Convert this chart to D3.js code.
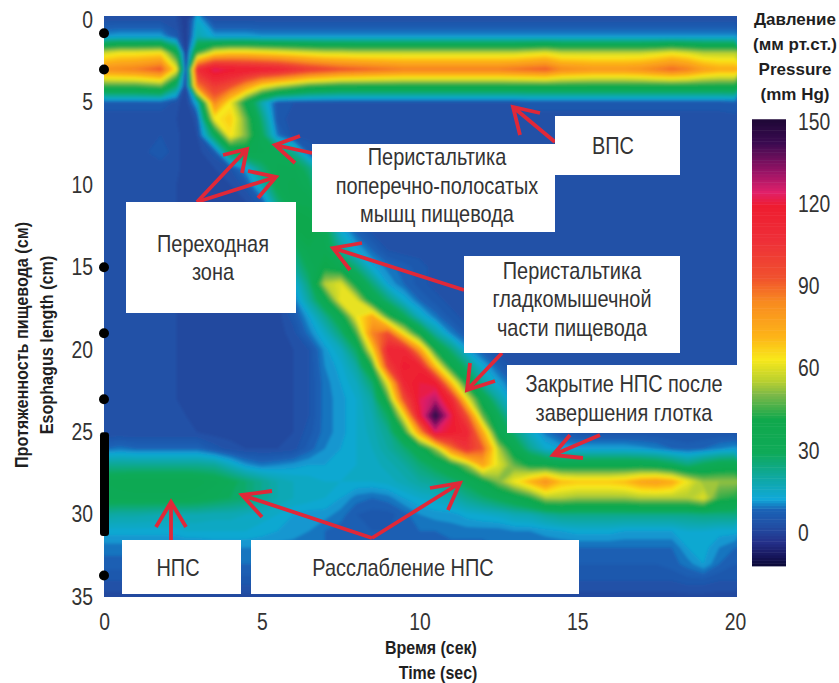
<!DOCTYPE html>
<html>
<head>
<meta charset="utf-8">
<script src="https://cdn.jsdelivr.net/npm/d3@7"></script>
<style>
body { margin: 0; background: #fff; }
text { font-family: "Liberation Sans", sans-serif; fill: #333; }
.bold { font-weight: bold; fill: #1f1f1f; }
.axis text { font-size: 23px; }
.note { font-size: 24px; text-anchor: middle; dominant-baseline: middle; }
</style>
</head>
<body>
<div id="chart"></div>
<script>
var timeTicks = [0, 5, 10, 15, 20];
var lengthTicks = [0, 5, 10, 15, 20, 25, 30, 35];
var pressureTicks = [0, 30, 60, 90, 120, 150];
var sensorDots = [0.8, 3, 15, 19, 23, 33.7];
var sensorBar = [25, 31.3];

var colorValues = [-12, -9, -4, 2, 8, 12, 20, 29, 41, 50, 55, 63, 71, 84, 93, 106, 119, 124, 131, 142, 150];
var colorNames = ["#0c0a3a", "#16155a", "#242f88", "#214ea4", "#1a62b6", "#10a8d8", "#0fa8a0", "#0faa58", "#10a84c",
    "#7cb848", "#b8d030", "#f8e81a", "#fdb518", "#f88a20", "#f0502e", "#ee3038", "#ee1c30", "#e0206a", "#9c1466", "#3a0a50", "#200838"];

// time of each sampled column (sec), tighter around the swallow stripe
var timeSamples = [0, 0.5, 1, 1.8, 2.3, 2.6, 2.95, 3.5, 4, 4.5, 5, 5.5, 6, 6.5, 7, 7.5, 8, 8.5, 9, 9.5,
    10, 10.5, 11, 11.5, 12, 12.5, 13, 13.5, 14, 14.5, 15, 15.5, 16, 16.5, 17, 17.5, 18, 18.5, 19, 19.5, 20];

// pressure, one row per cm of esophagus, one value per sampled column
var pressure = [
[3,3,3,3,2,-2,14,3,3,3,3,3,3,3,3,3,3,3,3,3,3,3,3,3,3,3,3,3,3,3,3,3,3,3,3,3,3,3,3,3,3],
[11,12,12,12,5,-2,18,12,12,12,11,11,11,11,11,11,11,11,11,11,11,11,11,11,11,11,11,11,11,11,11,11,11,11,11,11,11,11,11,11,11],
[58,62,62,64,38,-2,45,64,68,68,66,64,62,60,58,58,57,57,57,57,57,57,57,57,57,57,57,59,61,57,57,57,57,57,57,59,62,59,55,55,55],
[82,84,86,93,62,0,108,124,120,118,116,114,108,102,98,94,92,90,88,86,86,86,86,86,86,86,88,90,92,84,82,80,80,80,82,86,90,86,78,74,74],
[44,44,44,48,26,0,85,102,95,80,64,56,50,44,42,40,40,40,40,40,40,40,40,40,40,40,40,40,40,40,40,40,40,40,40,40,40,40,40,40,40],
[6,6,6,6,3,0,15,85,62,38,18,5,4,4,4,4,4,4,4,4,4,4,4,4,4,4,4,5,5,5,5,5,5,5,5,5,5,5,5,5,6],
[2,2,2,2,2,0,3,62,68,48,25,5,3,3,3,3,3,3,3,3,3,3,3,3,3,3,3,3,3,3,3,3,3,3,3,3,3,3,3,3,3],
[3,3,3,4,3,0,2,30,64,50,30,9,3,3,3,3,3,3,3,3,3,3,3,3,3,3,3,3,3,3,3,3,3,3,3,3,3,3,3,3,3],
[2,2,3,5,3,0,1,5,30,36,33,30,22,6,3,3,3,3,3,3,3,3,3,3,3,3,3,3,3,3,3,3,3,3,3,3,3,3,3,3,3],
[2,2,2,3,3,0,1,2,4,12,25,33,33,25,8,3,3,3,3,3,3,3,3,3,3,3,3,3,3,3,3,3,3,3,3,3,3,3,3,3,3],
[2,2,2,2,2,0,1,1,2,5,18,32,35,30,12,4,3,3,3,3,3,3,3,3,3,3,3,3,3,3,3,3,3,3,3,3,3,3,3,3,3],
[2,2,2,2,2,1,1,1,1,2,6,25,35,35,20,6,3,3,3,3,3,3,3,3,3,3,3,3,3,3,3,3,3,3,3,3,3,3,3,3,3],
[2,2,2,2,2,1,1,1,1,2,3,15,42,38,28,8,3,3,3,3,3,3,3,3,3,3,3,3,3,3,3,3,3,3,3,3,3,3,3,3,3],
[2,2,2,2,2,1,1,1,1,1,2,12,35,40,32,15,8,4,3,3,3,3,3,3,3,3,3,3,3,3,3,3,3,3,3,3,3,3,3,3,3],
[2,2,2,2,2,1,1,1,1,1,2,6,25,35,35,22,13,8,4,3,3,3,3,3,3,3,3,3,3,3,3,3,3,3,3,3,3,3,3,3,3],
[2,2,2,2,2,1,1,1,1,1,1,4,20,30,40,35,25,13,9,7,5,3,3,3,3,3,3,3,3,3,3,3,3,3,3,3,3,3,3,3,3],
[2,2,2,2,2,1,1,1,1,1,1,2,12,25,55,60,38,25,12,8,5,3,3,3,3,3,3,3,3,3,3,3,3,3,3,3,3,3,3,3,3],
[2,2,2,2,2,1,1,1,1,1,1,1,8,20,35,62,60,35,25,14,8,5,3,3,3,3,3,3,3,3,3,3,3,3,3,3,3,3,3,3,3],
[2,2,2,2,2,1,1,1,1,1,1,1,5,12,22,35,62,75,45,30,16,9,5,3,3,3,3,3,3,3,3,3,3,3,3,3,3,3,3,3,3],
[2,2,2,2,2,1,1,1,1,1,1,1,3,9,15,25,45,85,95,62,38,20,10,5,3,3,3,3,3,3,3,3,3,3,3,3,3,3,3,3,3],
[2,2,2,2,2,1,1,1,1,1,1,1,2,4,11,16,28,65,112,112,78,40,25,12,6,3,3,3,3,3,3,3,3,3,3,3,3,3,3,3,3],
[2,2,2,2,2,1,1,1,1,1,1,1,2,4,10,13,20,42,100,118,114,70,38,25,13,7,3,3,3,3,3,3,3,3,3,3,3,3,3,3,3],
[2,2,2,2,2,1,1,1,1,1,1,1,2,4,9,12,16,26,62,112,120,118,70,38,20,12,7,4,3,3,3,3,3,3,3,3,3,3,3,3,3],
[2,2,2,2,2,1,1,1,1,1,1,1,2,4,9,11,14,20,44,95,122,128,112,62,35,20,10,5,3,3,3,3,3,3,3,3,3,3,3,3,3],
[2,2,2,2,2,2,1,1,1,1,1,1,2,4,9,11,14,18,28,62,118,145,122,95,48,30,16,10,6,4,3,3,3,3,3,3,3,3,3,3,3],
[2,2,2,2,2,2,2,1,1,1,1,1,2,5,9,11,14,17,22,40,78,124,118,112,75,35,25,15,9,5,4,4,4,4,4,4,4,4,4,4,4],
[8,9,8,8,8,8,8,5,3,2,2,2,3,7,10,12,14,16,20,25,34,52,85,105,92,55,35,22,14,12,12,12,12,12,11,10,8,7,8,10,11],
[22,22,22,22,22,22,22,21,16,11,9,10,11,12,12,13,14,15,17,20,25,30,38,52,75,60,48,40,38,36,36,36,36,36,36,34,30,25,30,34,35],
[34,35,36,36,36,36,35,33,30,26,22,18,16,15,14,14,14,14,15,17,20,22,25,30,38,50,62,72,82,70,68,68,68,70,76,78,74,62,52,52,52],
[33,33,33,33,33,33,32,30,28,26,22,18,16,15,14,12,9,8,9,12,14,15,18,22,26,30,35,42,54,54,52,52,52,52,54,54,54,54,60,44,42],
[20,19,19,18,18,18,18,17,17,16,15,14,12,11,11,9,6,5,5,7,10,11,11,13,14,15,17,18,21,23,23,23,23,23,23,23,23,23,24,24,24],
[13,13,13,13,13,14,14,14,14,14,13,12,11,10,8,7,6,6,6,7,8,8,9,9,9,9,10,10,11,12,13,13,13,12,12,12,12,14,14,13,13],
[9,9,9,9,9,9,9,10,10,10,10,9,9,8,8,7,7,7,7,7,7,7,7,7,7,8,8,8,8,8,8,8,8,8,8,8,8,12,13,10,8],
[7,7,7,7,7,7,7,8,8,8,8,8,7,7,7,7,6,6,6,6,6,6,6,6,6,6,6,6,6,6,6,6,6,6,6,6,7,9,12,8,6],
[4,4,4,4,4,4,4,5,5,5,5,5,5,5,4,4,4,4,4,4,4,4,4,4,4,4,4,4,4,4,4,4,4,4,4,4,4,5,5,4,4],
[1,1,1,1,1,1,1,1,1,1,1,1,1,1,1,1,1,1,1,1,1,1,1,1,1,1,1,1,1,1,1,1,1,1,1,1,1,1,1,1,1]
];

var width = 839, height = 683;
var plot = { left: 104, right: 737, top: 16, bottom: 597 };

var svg = d3.select("#chart").append("svg")
    .attr("width", width)
    .attr("height", height);

var x = d3.scaleLinear().domain([0, 20]).range([104, 735]);
var y = d3.scaleLinear().domain([0, 35]).range([20, 597]);
var barY = d3.scaleLinear().domain([0, 150]).range([533, 122]);
var color = d3.scaleLinear().domain(colorValues).range(colorNames).clamp(true);

var nRows = pressure.length, nCols = pressure[0].length;
var columnTime = d3.scaleLinear().domain(d3.range(nCols)).range(timeSamples);

// Liberation Sans has no narrow cut here, so squeeze it to the condensed look
function squeeze(sel, k) {
    sel.each(function() {
        d3.select(this)
            .attr("textLength", this.getComputedTextLength() * k)
            .attr("lengthAdjust", "spacingAndGlyphs");
    });
}

var defs = svg.append("defs");
defs.append("clipPath").attr("id", "plotClip").append("rect")
    .attr("x", plot.left).attr("y", plot.top)
    .attr("width", plot.right - plot.left).attr("height", plot.bottom - plot.top);
defs.append("filter").attr("id", "soft")
    .attr("x", "-5%").attr("y", "-5%").attr("width", "110%").attr("height", "110%")
    .append("feGaussianBlur").attr("stdDeviation", 1.6);

// contour grid points sit at i + 0.5
var project = d3.geoTransform({
    point: function(cx, cy) {
        this.stream.point(x(columnTime(cx - 0.5)), y(cy - 0.5));
    }
});
var path = d3.geoPath(project);

var bandThresholds = d3.range(-12, 150, 2);
var contours = d3.contours()
    .size([nCols, nRows])
    .smooth(true)
    .thresholds(bandThresholds)(pressure.flat());

var heat = svg.append("g").attr("clip-path", "url(#plotClip)")
    .append("g").attr("filter", "url(#soft)");

heat.append("rect")
    .attr("x", plot.left - 10).attr("y", plot.top - 10)
    .attr("width", plot.right - plot.left + 20).attr("height", plot.bottom - plot.top + 20)
    .attr("fill", color(2));

heat.selectAll("path.band")
    .data(contours)
    .enter()
    .append("path")
    .attr("class", "band")
    .attr("d", path)
    .attr("fill", d => color(d.value + 1));

// axes
var xAxis = d3.axisBottom(x).tickValues(timeTicks).tickSize(0).tickPadding(17);
svg.append("g").attr("class", "axis")
    .attr("transform", `translate(0, ${plot.bottom})`)
    .call(xAxis)
    .call(g => g.select(".domain").remove())
    .selectAll("text").call(squeeze, 0.84);

var yAxis = d3.axisLeft(y).tickValues(lengthTicks).tickSize(0).tickPadding(11);
svg.append("g").attr("class", "axis")
    .attr("transform", `translate(${plot.left}, 0)`)
    .call(yAxis)
    .call(g => g.select(".domain").remove())
    .selectAll("text").call(squeeze, 0.84);

// sensor marks on the left edge
svg.selectAll("circle.sensor")
    .data(sensorDots)
    .enter()
    .append("circle")
    .attr("class", "sensor")
    .attr("cx", plot.left)
    .attr("cy", d => y(d))
    .attr("r", 5)
    .attr("fill", "#000");

svg.append("rect")
    .attr("x", 100).attr("width", 9)
    .attr("y", y(sensorBar[0]))
    .attr("height", y(sensorBar[1]) - y(sensorBar[0]))
    .attr("rx", 3)
    .attr("fill", "#000");

// axis titles
function boldLabel(label, transform, k) {
    svg.append("text").attr("class", "bold").attr("text-anchor", "middle")
        .attr("transform", transform)
        .style("font-size", "19px")
        .text(label)
        .call(squeeze, k);
}
boldLabel("Время (сек)", "translate(431, 654)", 0.84);
boldLabel("Time (sec)", "translate(438, 679)", 0.84);
boldLabel("Протяженность пищевода (см)", "translate(28, 345) rotate(-90)", 0.85);
boldLabel("Esophagus length (cm)", "translate(53, 345) rotate(-90)", 0.85);

// colorbar
var barLevels = d3.range(-12, 151, 1);
svg.append("g").selectAll("rect")
    .data(barLevels)
    .enter()
    .append("rect")
    .attr("x", 752)
    .attr("width", 34)
    .attr("y", d => barY(d + 1))
    .attr("height", d => barY(d) - barY(d + 1) + 0.5)
    .attr("fill", d => color(d));

var barAxis = d3.axisRight(barY).tickValues(pressureTicks).tickSize(0).tickPadding(12);
svg.append("g").attr("class", "axis")
    .attr("transform", "translate(786, 0)")
    .call(barAxis)
    .call(g => g.select(".domain").remove())
    .selectAll("text").call(squeeze, 0.84);

var barTitle = ["Давление", "(мм рт.ст.)", "Pressure", "(mm Hg)"];
svg.selectAll("text.barTitle")
    .data(barTitle)
    .enter()
    .append("text")
    .attr("class", "barTitle bold")
    .attr("text-anchor", "middle")
    .attr("x", 795)
    .attr("y", (d, i) => 25 + i * 25)
    .style("font-size", "17px")
    .text(d => d);

// arrows: shaft start, tip, two barbs
var arrows = [
    [[197, 202], [247, 149], [223, 155], [242, 173]],
    [[197, 202], [276, 177], [248, 171], [258, 198]],
    [[312, 153], [275, 145], [300, 136], [295, 163]],
    [[555, 142], [513, 107], [540, 113], [520, 135]],
    [[464, 290], [333, 248], [362, 243], [350, 270]],
    [[502, 353], [467, 390], [495, 381], [470, 363]],
    [[600, 435], [553, 455], [583, 458], [570, 435]],
    [[171, 540], [171, 502], [156, 527], [186, 527]],
    [[372, 538], [242, 495], [272, 491], [262, 517]],
    [[372, 538], [460, 483], [430, 488], [448, 510]]
];
svg.append("g").selectAll("path")
    .data(arrows)
    .enter()
    .append("path")
    .attr("d", a => `M${a[0]}L${a[1]}M${a[2]}L${a[1]}L${a[3]}`)
    .attr("fill", "none")
    .attr("stroke", "#e02838")
    .attr("stroke-width", 3.8);

// white note boxes
var notes = [
    { box: [126, 202, 296, 313], cx: 213, lines: [["Переходная", 246], ["зона", 274]] },
    { box: [312, 144, 555, 232], cx: 437, lines: [["Перистальтика", 159], ["поперечно-полосатых", 188], ["мышц пищевода", 216]] },
    { box: [555, 116, 680, 175], cx: 613, lines: [["ВПС", 148]] },
    { box: [464, 256, 680, 353], cx: 572, lines: [["Перистальтика", 273], ["гладкомышечной", 301], ["части пищевода", 330]] },
    { box: [507, 365, 739, 433], cx: 624, lines: [["Закрытие НПС после", 386], ["завершения глотка", 415]] },
    { box: [122, 540, 241, 594], cx: 178, lines: [["НПС", 570]] },
    { box: [251, 540, 579, 594], cx: 403, lines: [["Расслабление НПС", 570]] }
];
var noteG = svg.append("g").selectAll("g")
    .data(notes)
    .enter()
    .append("g");

noteG.append("rect")
    .attr("x", d => d.box[0])
    .attr("y", d => d.box[1])
    .attr("width", d => d.box[2] - d.box[0])
    .attr("height", d => d.box[3] - d.box[1])
    .attr("fill", "#fff");

noteG.selectAll("text")
    .data(d => d.lines.map(l => ({ cx: d.cx, label: l[0], ty: l[1] })))
    .enter()
    .append("text")
    .attr("class", "note")
    .attr("x", d => d.cx)
    .attr("y", d => d.ty)
    .text(d => d.label)
    .call(squeeze, 0.83);
</script>
</body>
</html>
